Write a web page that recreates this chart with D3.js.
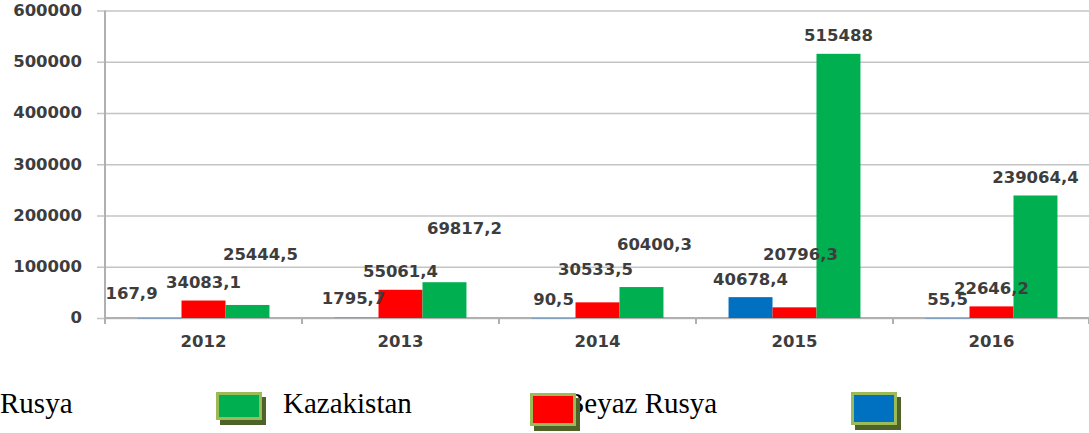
<!DOCTYPE html>
<html>
<head>
<meta charset="utf-8">
<script src="https://cdn.jsdelivr.net/npm/d3@7"></script>
<style>
  body { margin: 0; background: #fff; }
  svg { display: block; }
  .tick text, .bar-label { font-family: 'DejaVu Sans', Verdana, sans-serif; font-weight: bold; font-size: 15px; fill: #3d3d3d; }
  .legend-text { font-family: 'Liberation Serif', 'Times New Roman', serif; font-size: 29px; fill: #000; }
</style>
</head>
<body>
<svg id="chart"></svg>
<script>
// categories and series
const years = ['2012', '2013', '2014', '2015', '2016'];
const seriesNames = ['blue', 'red', 'green'];
const blueValues = [167.9, 1795.7, 90.5, 40678.4, 55.5];
const redValues = [34083.1, 55061.4, 30533.5, 20796.3, 22646.2];
const greenValues = [25444.5, 69817.2, 60400.3, 515488, 239064.4];
const yTicks = [0, 100000, 200000, 300000, 400000, 500000, 600000];
const legendLabels = ['Kazakistan', 'Beyaz Rusya', ''];

// layout: labels in the original were dragged by hand, these are their nudges (dx, dy)
const labelNudge = {
  blue:  [[-28, -6], [-3, 0], [0, 0], [0, 0], [0, 0]],
  red:   [[0, 0], [0, 0], [-2, -15], [6, -35], [0, 0]],
  green: [[13, -32], [20, -36], [13, -24], [0, 0], [0, 0]]
};
const colors = { blue: '#0070c0', red: '#ff0000', green: '#00b050' };
const stretch = 1.1; // original text is a little wider than the font

const config = { width: 1089, height: 433, left: 105, right: 1089, top: 10.5, bottom: 318 };

const svg = d3.select('#chart')
  .attr('width', config.width)
  .attr('height', config.height);

const values = { blue: blueValues, red: redValues, green: greenValues };
const rows = [];
years.forEach((yr, i) => {
  seriesNames.forEach(s => rows.push({ year: yr, series: s, value: values[s][i], nudge: labelNudge[s][i] }));
});

// scales
const x = d3.scaleBand().domain(years).range([config.left, config.right + 1]).padding(0);
const xs = d3.scaleBand().domain(seriesNames).range([0, x.bandwidth()]).paddingInner(0).paddingOuter(0.74);
const y = d3.scaleLinear().domain([0, 600000]).range([config.bottom, config.top]);

// gridlines
const grid = svg.append('g')
  .attr('transform', `translate(${config.left - 8},0)`)
  .call(d3.axisLeft(y).tickValues(yTicks).tickSize(-(config.right - config.left + 8)).tickFormat(''));
grid.select('.domain').remove();
grid.selectAll('line').attr('stroke', '#c4c4c4').attr('stroke-width', 1.6);

// y tick labels
const yAxis = svg.append('g')
  .attr('transform', `translate(82,0)`)
  .call(d3.axisLeft(y).tickValues(yTicks).tickSize(0).tickPadding(0).tickFormat(d3.format('d')));
yAxis.select('.domain').remove();
yAxis.selectAll('text')
  .attr('font-family', null).attr('font-size', null)
  .attr('transform', `scale(${stretch},1)`);

// y axis line
svg.append('line')
  .attr('x1', config.left).attr('x2', config.left)
  .attr('y1', y(600000)).attr('y2', y(0) + 6)
  .attr('stroke', '#b0b0b0').attr('stroke-width', 2);

// x axis: baseline + boundary ticks
svg.append('line')
  .attr('x1', config.left).attr('x2', config.right)
  .attr('y1', y(0)).attr('y2', y(0))
  .attr('stroke', '#b0b0b0').attr('stroke-width', 2);

const boundaries = years.slice(1).map(d => x(d)).concat([x.range()[1] - 1]);
svg.append('g').selectAll('line')
  .data(boundaries)
  .join('line')
  .attr('x1', d => d).attr('x2', d => d)
  .attr('y1', y(0)).attr('y2', y(0) + 6)
  .attr('stroke', '#b0b0b0').attr('stroke-width', 2);

const xAxis = svg.append('g')
  .attr('transform', `translate(0,${y(0)})`)
  .call(d3.axisBottom(x).tickSize(0).tickPadding(24));
xAxis.select('.domain').remove();
xAxis.selectAll('text')
  .attr('font-family', null).attr('font-size', null).attr('dy', '0.35em')
  .attr('transform', `scale(${stretch},1)`);

// bars
svg.append('g').selectAll('rect')
  .data(rows)
  .join('rect')
  .attr('x', d => x(d.year) + xs(d.series))
  .attr('width', xs.bandwidth())
  .attr('y', d => y(d.value))
  .attr('height', d => Math.max(1, y(0) - y(d.value)))
  .attr('fill', d => d.value < 3000 ? '#7f9fbf' : colors[d.series]);

// data labels
svg.append('g').selectAll('text')
  .data(rows)
  .join('text')
  .attr('class', 'bar-label')
  .attr('text-anchor', 'middle')
  .attr('transform', d => {
    const lx = x(d.year) + xs(d.series) + xs.bandwidth() / 2 + d.nudge[0];
    const ly = y(d.value) - 18 + d.nudge[1];
    return `translate(${lx},${ly}) scale(${stretch},1)`;
  })
  .attr('dy', '0.36em')
  .text(d => String(d.value).replace('.', ','));

// legend (cropped at the bottom of the original picture)
svg.append('text')
  .attr('class', 'legend-text')
  .attr('x', 0).attr('y', 413)
  .text('Rusya');

const legendItems = [
  { color: colors.green, x: 216, y: 392, h: 28, label: legendLabels[0], lx: 283 },
  { color: colors.red, x: 530, y: 393, h: 33, label: legendLabels[1], lx: 565 },
  { color: colors.blue, x: 851, y: 392, h: 33, label: legendLabels[2], lx: 910 }
];

const leg = svg.append('g');
legendItems.forEach(d => {
  leg.append('text')
    .attr('class', 'legend-text')
    .attr('x', d.lx).attr('y', 413)
    .text(d.label);
  leg.append('rect')
    .attr('x', d.x + 4).attr('y', d.y + 5)
    .attr('width', 46).attr('height', d.h)
    .attr('fill', '#4f6228');
  leg.append('rect')
    .attr('x', d.x + 1.5).attr('y', d.y + 1.5)
    .attr('width', 43).attr('height', d.h - 3)
    .attr('fill', d.color)
    .attr('stroke', '#9bbb59').attr('stroke-width', 3);
});
</script>
</body>
</html>
